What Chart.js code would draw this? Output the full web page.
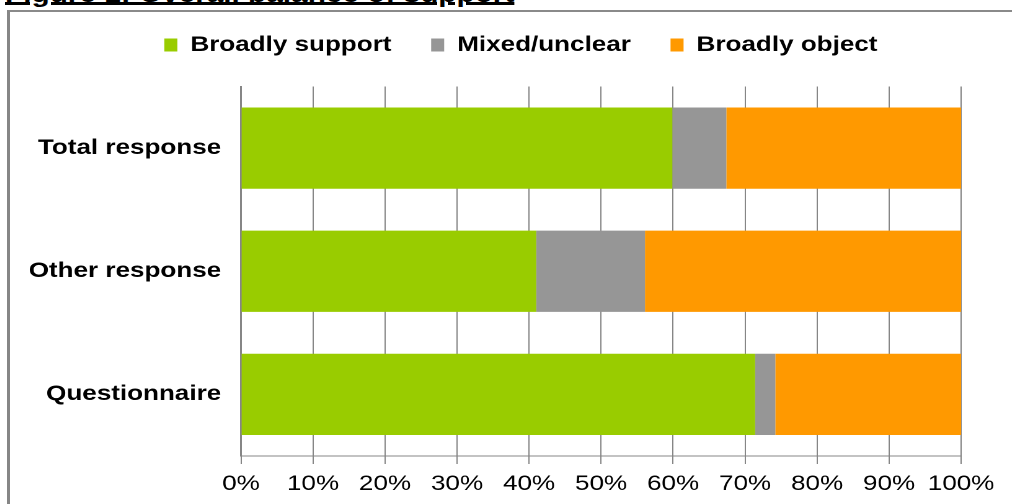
<!DOCTYPE html>
<html>
<head>
<meta charset="utf-8">
<title>Overall balance of support</title>
<script src="https://cdn.jsdelivr.net/npm/chart.js@4/dist/chart.umd.min.js"></script>
<style>
  html, body { margin: 0; padding: 0; background: #fff; overflow: hidden; width: 1012px; height: 504px; }
  .fig-title {
    position: absolute; left: 5px; top: -18px;
    font: bold 24px "Liberation Sans", Arial, sans-serif; line-height: 24px;
    color: #000; white-space: nowrap;
    text-decoration: underline; text-decoration-thickness: 3px; text-underline-offset: 0;
    transform: scaleX(1.24); transform-origin: 0 0;
  }
  .frame {
    position: absolute; left: 7px; top: 10px; width: 1100px; height: 600px;
    border-left: 3px solid #868686; border-top: 2px solid #8a8a8a;
    pointer-events: none;
  }
  .plot {
    position: absolute; left: 10px; top: 0;
    transform: scaleX(1.24); transform-origin: 0 0;
  }
  .plot canvas { display: block; }
</style>
</head>
<body>
<div class="fig-title">Figure 1: Overall balance of support</div>
<div class="plot"><canvas id="balance" width="824" height="504" style="width:824px;height:504px"></canvas></div>
<div class="frame"></div>
<script>
// share of responses in each group (%)
const groups = ['Total response', 'Other response', 'Questionnaire'];
const broadlySupport = [59.9, 41.0, 71.4];
const mixedUnclear = [7.5, 15.1, 2.8];
const broadlyObject = [32.6, 43.9, 25.8];

const FONT = '"Liberation Sans", Arial, sans-serif';
const GRID = '#868686';

Chart.defaults.color = '#000';
Chart.defaults.font.family = FONT;

// centre the legend on the whole frame rather than on the padded area
const legendShift = {
  id: 'legendShift',
  afterLayout(chart) {
    chart.legend.left += 28.5;
    chart.legend.right += 28.5;
  }
};

new Chart(document.getElementById('balance'), {
  type: 'bar',
  data: {
    labels: groups,
    datasets: [
      { label: 'Broadly support', data: broadlySupport, backgroundColor: '#99cc00', borderWidth: 0 },
      { label: 'Mixed/unclear', data: mixedUnclear, backgroundColor: '#969696', borderWidth: 0 },
      { label: 'Broadly object', data: broadlyObject, backgroundColor: '#ff9900', borderWidth: 0 }
    ]
  },
  plugins: [legendShift],
  options: {
    indexAxis: 'y',
    responsive: false,
    devicePixelRatio: 2,
    animation: false,
    layout: { padding: { top: 2.5, right: 57, bottom: -0.2, left: 0 } },
    datasets: { bar: { categoryPercentage: 1, barPercentage: 0.66 } },
    plugins: {
      tooltip: { enabled: false },
      legend: {
        position: 'top',
        labels: {
          font: { size: 21, weight: 'bold' },
          boxWidth: 10.5,
          boxHeight: 13,
          padding: 32
        }
      },
      // empty title used as a gap between legend and bars
      title: {
        display: true,
        text: ' ',
        weight: 500,
        font: { size: 1 },
        padding: { top: 0, bottom: 19.8 }
      }
    },
    scales: {
      x: {
        stacked: true,
        min: 0,
        max: 100,
        ticks: {
          stepSize: 10,
          padding: 7.5,
          maxRotation: 0,
          minRotation: 0,
          autoSkip: false,
          font: { size: 21 },
          callback: (v) => v + '%'
        },
        grid: { color: GRID, lineWidth: 1, drawTicks: true, tickLength: 8 },
        border: { color: GRID, width: 1 }
      },
      y: {
        stacked: true,
        ticks: { padding: 16, font: { size: 21, weight: 'bold' } },
        grid: { display: false, drawTicks: false },
        border: { color: GRID, width: 1.5 },
        afterFit: (scale) => { scale.width = 186.3; }
      }
    }
  }
});
</script>
</body>
</html>
